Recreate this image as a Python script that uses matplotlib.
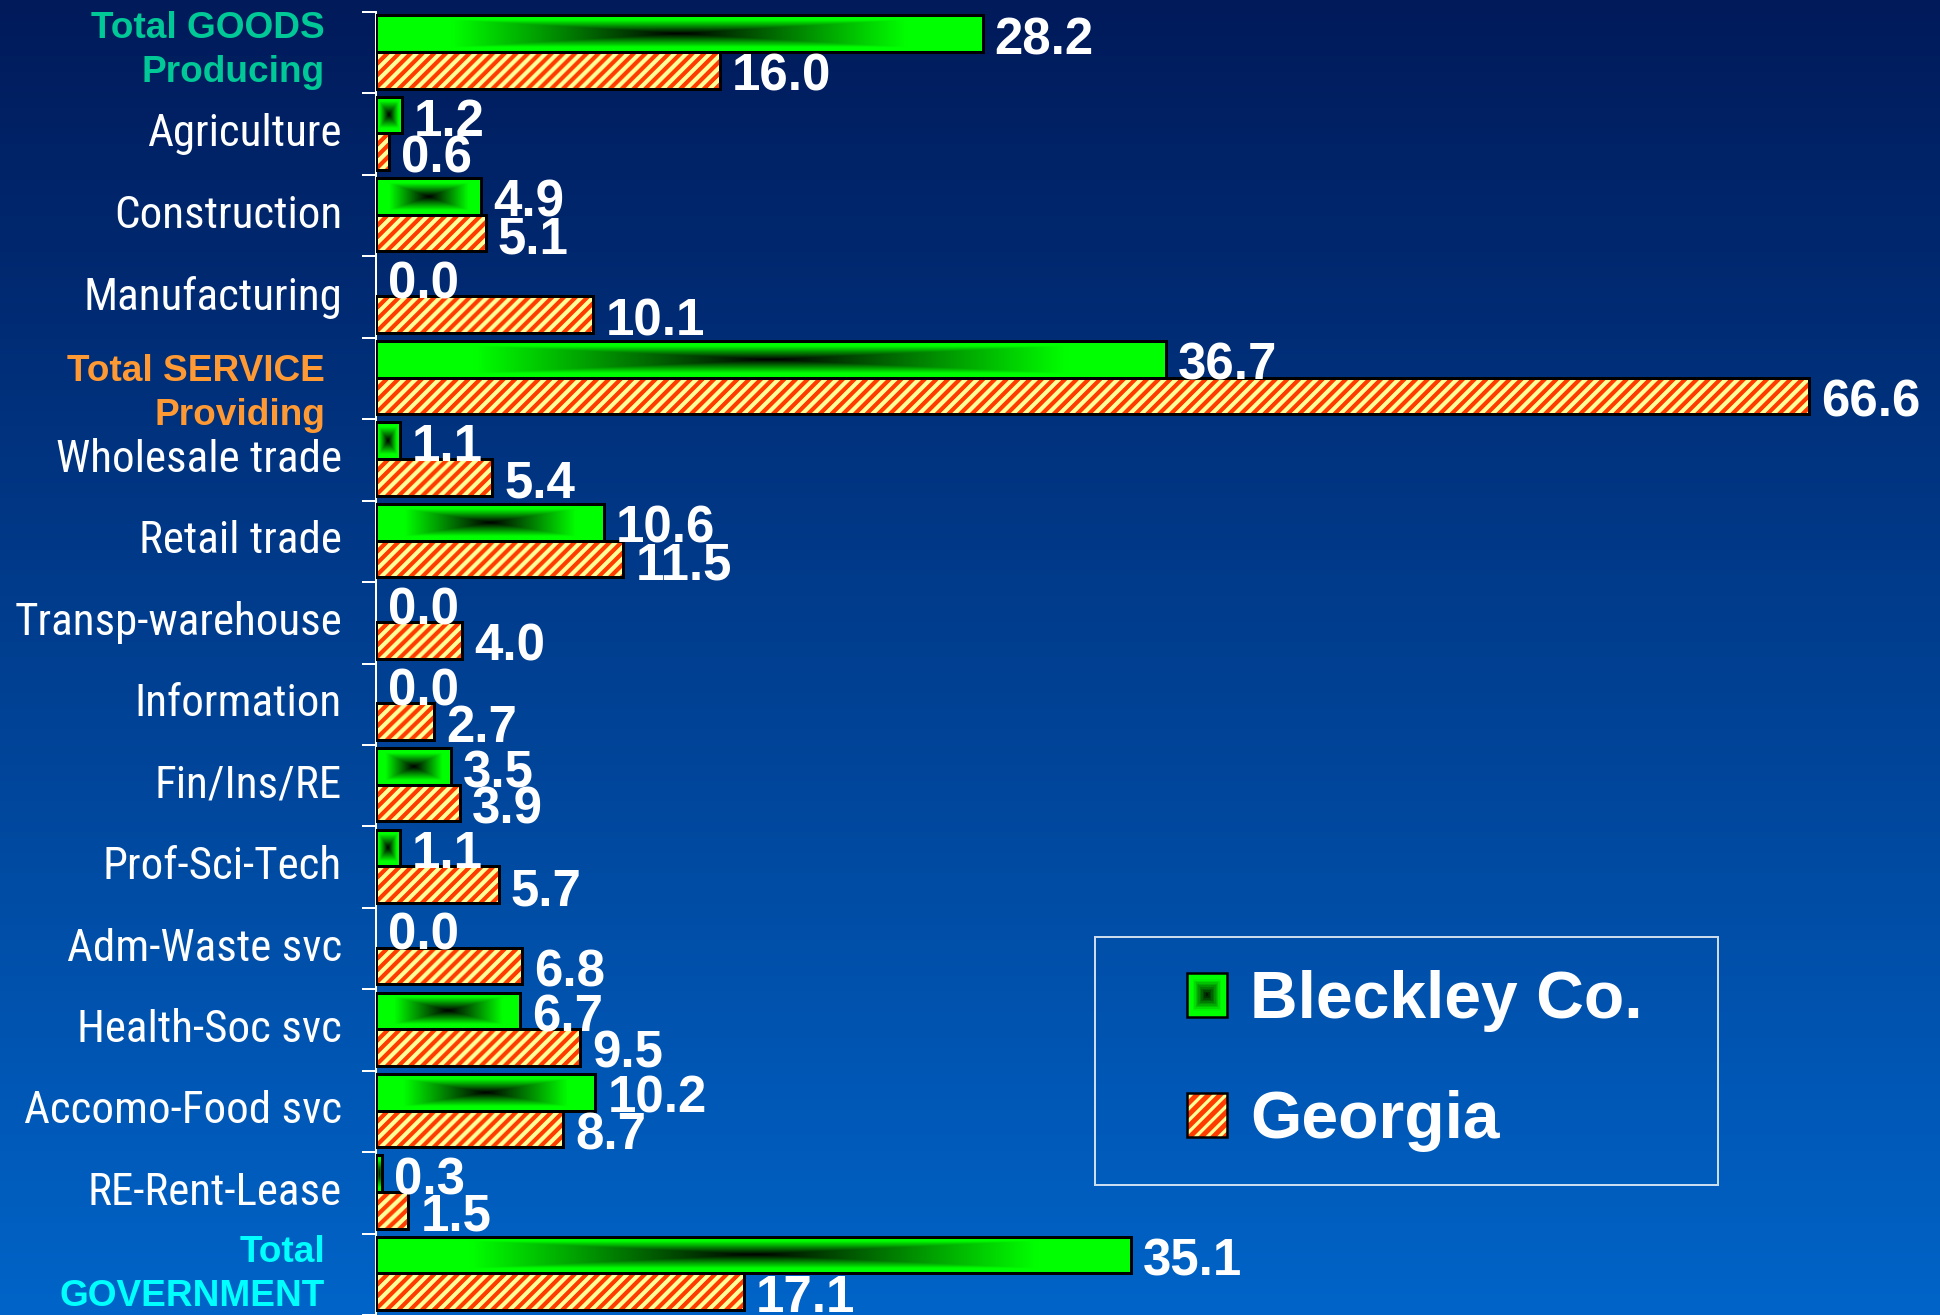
import numpy as np
import matplotlib
matplotlib.use("Agg")
import matplotlib.pyplot as plt
import matplotlib.patches as mpatches
import matplotlib.lines as mlines
import matplotlib.transforms as mtransforms
from matplotlib.legend_handler import HandlerBase
from matplotlib import font_manager
from matplotlib.font_manager import FontProperties
from matplotlib.textpath import TextPath

# --- data ---
categories = ["Total GOODS\nProducing", "Agriculture", "Construction", "Manufacturing",
              "Total SERVICE\nProviding", "Wholesale trade", "Retail trade",
              "Transp-warehouse", "Information", "Fin/Ins/RE", "Prof-Sci-Tech",
              "Adm-Waste svc", "Health-Soc svc", "Accomo-Food svc", "RE-Rent-Lease",
              "Total\nGOVERNMENT"]
bleckley = [28.2, 1.2, 4.9, 0.0, 36.7, 1.1, 10.6, 0.0, 0.0, 3.5, 1.1, 0.0, 6.7, 10.2, 0.3, 35.1]
georgia = [16.0, 0.6, 5.1, 10.1, 66.6, 5.4, 11.5, 4.0, 2.7, 3.9, 5.7, 6.8, 9.5, 8.7, 1.5, 17.1]
series_names = ["Bleckley Co.", "Georgia"]

DPI = 72          # 1 pt == 1 px
W, H = 1940, 1315
AX_LEFT, AX_TOP = 376, 12
XMAX = 72.7

plt.rcParams["font.family"] = ["Liberation Sans", "DejaVu Sans"]

GREEN = "#00FF00"
YELLOW = "#FFFF99"
STRIPE = "#FF3C00"
STRIPE_P = 11.7   # stripe period in px


def pick_cat_font():
    names = {f.name for f in font_manager.fontManager.ttflist}
    for fam in ("Liberation Sans Narrow", "Arial Narrow", "Roboto Condensed"):
        if fam in names:
            return fam
    return "Liberation Sans"


cat_font = pick_cat_font()
fp = FontProperties(family=cat_font, size=100)
w100 = TextPath((0, 0), "Agriculture", prop=fp).get_extents().width
cat_size = min(47, 100 * 192 / w100)

fig = plt.figure(figsize=(W / DPI, H / DPI), dpi=DPI)

# background gradient
bg = fig.add_axes([0, 0, 1, 1], zorder=-10)
top_c = np.array([0, 26, 90]) / 255
bot_c = np.array([0, 100, 200]) / 255
s = np.linspace(0, 1, 256)[:, None]
grad = top_c + (bot_c - top_c) * s
bg.imshow(grad[:, None, :], aspect="auto", extent=[0, 1, 0, 1])
bg.axis("off")

ax = fig.add_axes([AX_LEFT / W, 0, 1 - AX_LEFT / W, 1 - AX_TOP / H])
ax.set_facecolor("none")

n = len(categories)
y = np.arange(n)
h = 0.45
y_b = y - 0.235
y_g = y + 0.215

px_unit = (W - AX_LEFT) / XMAX
px_cat = (H - AX_TOP) / n


def green_texture(nx=240, ny=48):
    tx = np.abs(np.linspace(-1, 1, nx))[None, :]
    ty = np.abs(np.linspace(-1, 1, ny))[:, None]
    t = np.maximum(tx, ty)
    img = np.zeros((ny, nx, 3))
    img[..., 1] = np.clip(t / 0.75, 0, 1)
    return img


def stripe_texture(v):
    nx = max(1, int(round(v * px_unit)))
    ny = int(round(h * px_cat))
    xx = np.arange(nx)[None, :]
    rr = np.arange(ny)[:, None]
    c = 0.5 + 0.5 * np.cos(2 * np.pi * (xx + rr) / STRIPE_P)
    wgt = np.clip((c - 0.5) * 3 + 0.5, 0, 1)[..., None]
    yel = np.array(matplotlib.colors.to_rgb(YELLOW))
    red = np.array(matplotlib.colors.to_rgb(STRIPE))
    return yel * (1 - wgt) + red * wgt


tex = green_texture()
for yi, v in zip(y_b, bleckley):
    if v > 0:
        ax.imshow(tex, extent=(0, v, yi + h / 2, yi - h / 2), aspect="auto",
                  interpolation="bilinear", zorder=2)
ax.barh(y_b, bleckley, height=h, fill=False, edgecolor="black",
        linewidth=[3 if v > 0 else 0 for v in bleckley], zorder=3)

for yi, v in zip(y_g, georgia):
    if v > 0:
        ax.imshow(stripe_texture(v), extent=(0, v, yi + h / 2, yi - h / 2), aspect="auto",
                  interpolation="antialiased", zorder=2)
ax.barh(y_g, georgia, height=h, fill=False, edgecolor="black", linewidth=3, zorder=3)

for yy, vals in ((y_b, bleckley), (y_g, georgia)):
    for yi, v in zip(yy, vals):
        ax.annotate(f"{v:.1f}", xy=(v, yi), xytext=(12, -7), textcoords="offset points",
                    ha="left", va="center", color="white", fontsize=51,
                    fontweight="bold", zorder=5, annotation_clip=False)

ax.set_xlim(0, XMAX)
ax.set_ylim(n - 0.5, -0.5)
ax.set_yticks(y, labels=categories)
ax.set_yticks(np.arange(n + 1) - 0.5, minor=True)
ax.tick_params(axis="y", which="major", length=0, pad=34)
ax.tick_params(axis="y", which="minor", length=14, width=2, color="white", direction="out")
ax.set_xticks([])
for side in ("top", "right", "bottom"):
    ax.spines[side].set_visible(False)
ax.spines["left"].set_color("white")
ax.spines["left"].set_linewidth(2)

special = {0: ("#00C896", -17, 2), 4: ("#FF9933", -17, -15), 15: ("#00FFFF", -17, 0)}
for i, lab in enumerate(ax.get_yticklabels()):
    lab.set_verticalalignment("center")
    if i in special:
        c, dx, dy = special[i]
        lab.set_color(c)
        lab.set_fontfamily("Liberation Sans")
        lab.set_fontweight("bold")
        lab.set_fontsize(37)
        lab.set_linespacing(1.32)
        lab.set_transform(lab.get_transform() +
                          mtransforms.ScaledTranslation(dx / DPI, dy / DPI, fig.dpi_scale_trans))
    else:
        lab.set_color("white")
        lab.set_fontfamily(cat_font)
        lab.set_fontsize(cat_size)


# legend handles: small box pushed to the right end of the handle area
class GreenHandler(HandlerBase):
    def create_artists(self, legend, orig_handle, xdescent, ydescent, width, height, fontsize, trans):
        w = 40
        x0 = -xdescent + width - w
        y0 = -ydescent
        arts = []
        steps = 14
        for k in range(steps):
            f = 1 - k / steps
            g = min(1.0, f / 0.75)
            arts.append(mpatches.Rectangle((x0 + w * (1 - f) / 2, y0 + height * (1 - f) / 2),
                                           w * f, height * f, facecolor=(0, g, 0),
                                           edgecolor="none", transform=trans))
        arts.append(mpatches.Rectangle((x0, y0), w, height, fill=False, edgecolor="black",
                                       linewidth=2.5, transform=trans))
        return arts


class StripeHandler(HandlerBase):
    def create_artists(self, legend, orig_handle, xdescent, ydescent, width, height, fontsize, trans):
        w = 40
        x0 = -xdescent + width - w
        y0 = -ydescent
        box = mpatches.Rectangle((x0, y0), w, height, facecolor=YELLOW, edgecolor="none",
                                 transform=trans)
        arts = [box]
        xs = x0 - height
        while xs < x0 + w:
            ln = mlines.Line2D([xs, xs + height], [y0, y0 + height], color=STRIPE,
                               linewidth=STRIPE_P / 2 / np.sqrt(2) * 1.2, transform=trans)
            ln.set_clip_path(box)
            arts.append(ln)
            xs += STRIPE_P
        arts.append(mpatches.Rectangle((x0, y0), w, height, fill=False, edgecolor="black",
                                       linewidth=2.5, transform=trans))
        return arts


h_green = mpatches.Patch(facecolor=GREEN, label=series_names[0])
h_geo = mpatches.Patch(facecolor=YELLOW, label=series_names[1])
leg = ax.legend(handles=[h_green, h_geo],
                handler_map={h_green: GreenHandler(), h_geo: StripeHandler()},
                loc="upper left", bbox_to_anchor=(1095 / W, 1 - 1181 / H, 623 / W, 244 / H),
                bbox_transform=fig.transFigure, mode="expand", borderaxespad=0,
                borderpad=0.5, handlelength=1.5, handleheight=0.65, handletextpad=0.35,
                labelspacing=0.88, fancybox=False, labelcolor="white",
                prop=dict(family="Liberation Sans", weight="bold", size=66))
leg.get_frame().set_facecolor("none")
leg.get_frame().set_edgecolor("white")
leg.get_frame().set_linewidth(2)

fig.savefig("out.png", dpi=DPI)
